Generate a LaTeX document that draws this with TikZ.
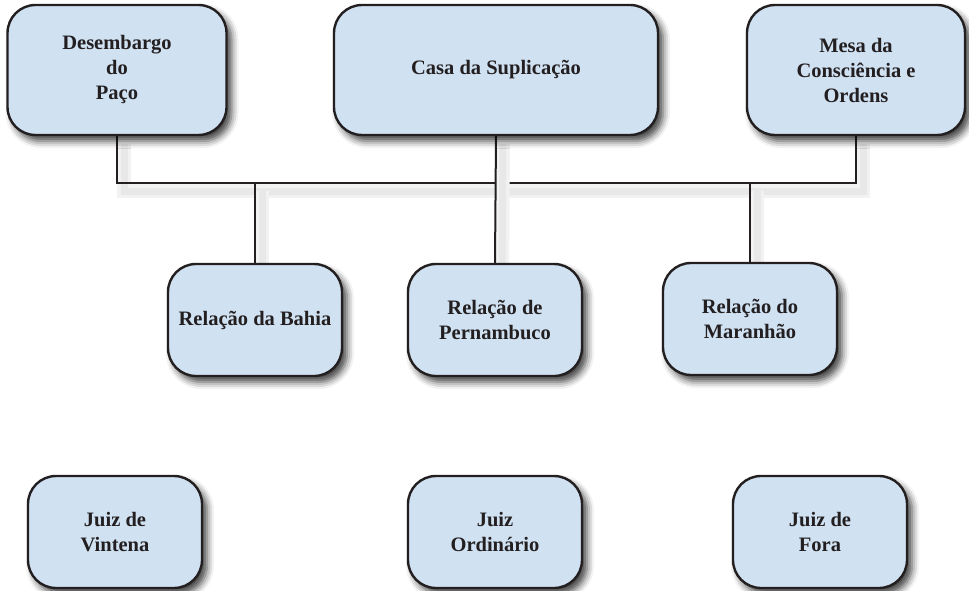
\documentclass[tikz,border=0pt]{standalone}
\usepackage{fontspec}
\setmainfont{Liberation Serif}
\usetikzlibrary{shadows.blur,backgrounds}
\definecolor{boxblue}{RGB}{208,225,242}
\definecolor{ink}{RGB}{35,31,32}

\begin{document}
\begin{tikzpicture}[x=1pt,y=-1pt,
  court/.style={draw=ink,line width=2.4pt,fill=boxblue,rounded corners=28pt,
    align=center,text=ink,font=\fontsize{20.5}{25}\selectfont\bfseries,
    blur shadow={shadow xshift=5pt,shadow yshift=-6pt,shadow blur radius=7pt,shadow opacity=75}},
  big/.style={court,minimum height=130pt},
  small/.style={court,minimum width=174pt,minimum height=112pt},
  link/.style={draw=ink,line width=2pt,
    preaction={draw=black!5,line width=14pt,transform canvas={shift={(7pt,-8pt)}}},
    preaction={draw=black!9,line width=7pt,transform canvas={shift={(7pt,-8pt)}}}}]
\useasboundingbox (0,0) rectangle (969,591);
\node[big,minimum width=219pt] (desembargo) at (117,70) {Desembargo\\do\\Paço};
\node[big,minimum width=324pt] (casa) at (496,70) {Casa da Suplicação};
\node[big,minimum width=218pt] (mesa) at (856,70) {Mesa da\\Consciência e\\Ordens};
\node[small] (bahia) at (255,320) {Relação da Bahia};
\node[small] (pernambuco) at (495,320) {Relação de\\Pernambuco};
\node[small] (maranhao) at (750,319) {Relação do\\Maranhão};
\node[small] (vintena) at (115,532) {Juiz de\\Vintena};
\node[small] (ordinario) at (495,532) {Juiz\\Ordinário};
\node[small] (fora) at (820,532) {Juiz de\\Fora};
\coordinate (bus) at (0,183);
\begin{scope}[on background layer]
\draw[link] (desembargo.south) |- (bus -| mesa.south) -- (mesa.south);
\draw[link] (casa.south) -- (pernambuco.north);
\draw[link] (bahia.north) -- (bahia.north |- bus);
\draw[link] (maranhao.north) -- (maranhao.north |- bus);
\end{scope}
\end{tikzpicture}
\end{document}
